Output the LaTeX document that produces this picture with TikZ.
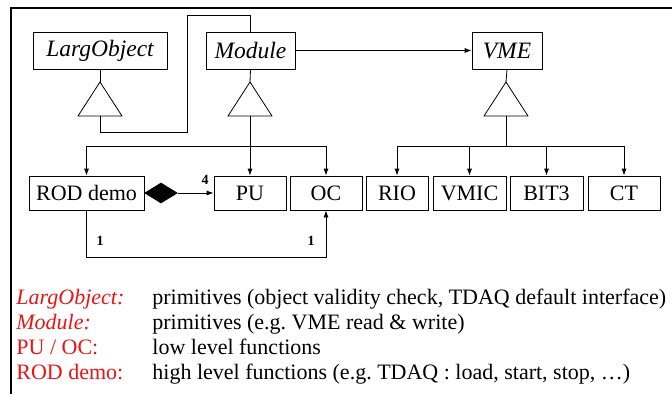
\documentclass[tikz,border=0pt]{standalone}
\usepackage{fontspec}
\setmainfont{Liberation Serif}
\usepackage{tikz}
\usetikzlibrary{arrows.meta,shapes.geometric}
\definecolor{legendred}{RGB}{235, 20, 20}
\frenchspacing

\tikzset{
  cls/.style={draw, line width=0.8pt, inner sep=0pt, minimum height=37pt, font=\fontsize{23.5}{26}\selectfont\itshape},
  sub/.style={draw, line width=0.8pt, inner sep=0pt, minimum height=34pt, font=\fontsize{22}{24}\selectfont},
  arr/.style={-{Latex[length=7pt,width=5pt]}},
  mult/.style={font=\fontsize{14}{16}\selectfont\bfseries, inner sep=0pt},
  key/.style={anchor=base west, inner sep=0pt, text=legendred, font=\fontsize{22}{24}\selectfont},
  desc/.style={anchor=base west, inner sep=0pt, font=\fontsize{22}{24}\selectfont}
}

\begin{document}
\begin{tikzpicture}[x=1pt, y=-1pt, line width=0.8pt]
        \useasboundingbox (0,0) rectangle (672,394);
        \draw[line width=2pt] (11,394) -- (11,8) -- (672,8);

        % classes
        \node[cls, minimum width=134pt] (larg) at (100,50.5) {LargObject};
        \node[cls, minimum width=89pt] (module) at (250.5,50.5) {Module};
        \node[cls, minimum width=70pt] (vme) at (507,50.5) {VME};

        % inheritance triangles
        \foreach \x/\n in {100/tl, 250/tm, 506/tv} {
          \draw (\x,82) -- (\x+22,116) -- (\x-22,116) -- cycle;
          \coordinate (\n-top) at (\x,82);
          \coordinate (\n-bot) at (\x,116);
        }

        % sub classes
        \node[sub, minimum width=115pt] (rod) at (86.5,193) {ROD demo};
        \node[sub, minimum width=72pt] (pu) at (250,193) {PU};
        \node[sub, minimum width=72pt] (oc) at (326,193) {OC};
        \foreach \n/\x/\w/\t in {rio/397/62/RIO, vmic/469.5/73/VMIC, bit3/546.5/73/BIT3, ct/624/72/CT} {
          \node[sub, minimum width=\w pt] (\n) at (\x,193) {\t};
        }

        \draw (larg.south) -- (tl-top);
        \draw (module.south) -- (tm-top);
        \draw (vme.south) -- (tv-top);
        \draw (tl-bot) -- (100,132) -- (187,132) -- (187,15) -| (module.north);
        \draw[arr] (module.east) -- (vme.west);

        \coordinate (mbus) at (250,146);
        \coordinate (vbus) at (506,146);
        \draw (tm-bot) -- (mbus);
        \draw (tv-bot) -- (vbus);
        \foreach \n in {rod, pu, oc} \draw[arr] (mbus) -| (\n.north);
        \foreach \n in {rio, vmic, bit3, ct} \draw[arr] (vbus) -| (\n.north);

        % aggregation
        \node[diamond, fill, aspect=1.6, minimum width=34pt, minimum height=21pt, inner sep=0pt] (agg) at (161,193) {};
        \draw[arr] (agg.east) -- (pu.west);
        \node[mult] (n4) at (205,180) {4};
        \draw[arr] (rod.south) -- (86.5,257) -| (oc.south);
        \node[mult] (n1a) at (100,241) {1};
        \node[mult] (n1b) at (311,241) {1};

        % legend
        \node[key] (k1) at (16,304) {\itshape LargObject:};
        \node[key] (k2) at (16,329) {\itshape Module:};
        \node[key] (k3) at (16,354) {PU / OC:};
        \node[key] (k4) at (16,379) {ROD demo:};
        \node[desc] (d1) at (152,304) {primitives (object validity check, TDAQ default interface)};
        \node[desc] (d2) at (152,329) {primitives (e.g. VME read \& write)};
        \node[desc] (d3) at (152,354) {low level functions};
        \node[desc] (d4) at (152,379) {high level functions (e.g. TDAQ : load, start, stop, \dots)};
      \end{tikzpicture}
\end{document}
